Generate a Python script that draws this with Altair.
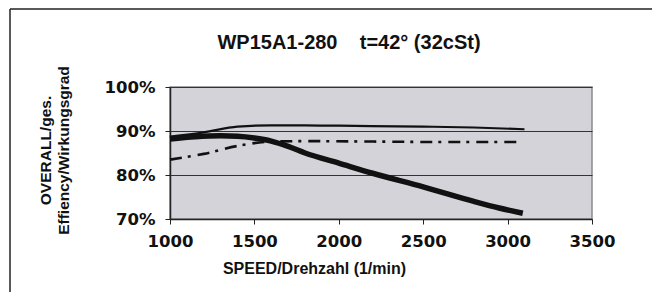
import altair as alt
import pandas as pd

# --- data ---
rpm_thin = [1000, 1200, 1400, 1600, 1800, 2000, 2500, 2800, 3100]
eff_thin = [0.887, 0.897, 0.910, 0.913, 0.913, 0.912, 0.910, 0.908, 0.904]

rpm_dash = [1000, 1200, 1400, 1600, 1800, 2200, 2600, 3070]
eff_dash = [0.835, 0.848, 0.866, 0.876, 0.877, 0.876, 0.875, 0.875]

rpm_thick = [1000, 1150, 1300, 1400, 1500, 1600, 1700, 1800, 2000, 2200, 2500, 2800, 2950, 3090]
eff_thick = [0.882, 0.887, 0.889, 0.888, 0.884, 0.877, 0.865, 0.850, 0.827, 0.804, 0.773, 0.740, 0.725, 0.713]

x_ticks = [1000, 1500, 2000, 2500, 3000, 3500]
y_ticks = [0.7, 0.8, 0.9, 1.0]

title_text = "WP15A1-280\u00a0\u00a0\u00a0\u00a0t=42\u00b0 (32cSt)"
x_title = "SPEED/Drehzahl (1/min)"
y_title = ["OVERALL/ges.", "Effiency/Wirkungsgrad"]

df_thin = pd.DataFrame({"rpm": rpm_thin, "eff": eff_thin})
df_dash = pd.DataFrame({"rpm": rpm_dash, "eff": eff_dash})
df_thick = pd.DataFrame({"rpm": rpm_thick, "eff": eff_thick})

TICK_FONT = "DejaVu Sans"
TEXT_FONT = "Liberation Sans"

x_enc = alt.X(
    "rpm:Q",
    scale=alt.Scale(domain=[1000, 3500], nice=False, zero=False),
    axis=alt.Axis(
        values=x_ticks, format="d", grid=False,
        domainColor="#222", domainWidth=1.5, tickColor="#222", tickSize=5,
        labelFont=TICK_FONT, labelFontSize=16.5, labelFontWeight="bold", labelColor="#111",
        labelPadding=9, labelFlush=False, labelOverlap=False,
        title=x_title, titleFont=TEXT_FONT, titleFontSize=16, titleFontWeight="bold",
        titleColor="#111", titleX=144, titleY=49, titleAlign="center", titleBaseline="middle",
    ),
)
y_enc = alt.Y(
    "eff:Q",
    scale=alt.Scale(domain=[0.7, 1.0], nice=False, zero=False),
    axis=alt.Axis(
        values=y_ticks, format=".0%", grid=True, gridColor="#333", gridWidth=1.2,
        domainColor="#222", domainWidth=1.5, tickColor="#222", tickSize=5,
        labelFont=TICK_FONT, labelFontSize=16.5, labelFontWeight="bold", labelColor="#111",
        labelPadding=10, labelFlush=False,
        title=y_title, titleFont=TEXT_FONT, titleFontSize=15.5, titleFontWeight="bold",
        titleColor="#111", titleAngle=270, titleX=-125, titleY=63,
        titleAlign="center", titleBaseline="middle", titleLineHeight=18,
    ),
)

thin = alt.Chart(df_thin).mark_line(color="#111", strokeWidth=2.2, interpolate="monotone").encode(x=x_enc, y=y_enc)
dash = alt.Chart(df_dash).mark_line(color="#111", strokeWidth=2.6, strokeDash=[12, 6, 3, 7],
                                    interpolate="monotone").encode(x=x_enc, y=y_enc)
thick = alt.Chart(df_thick).mark_line(color="#111", strokeWidth=5.5, interpolate="monotone").encode(x=x_enc, y=y_enc)

one = pd.DataFrame({"a": [0]})
# outer frame (left and top edges)
frame_left = alt.Chart(one).mark_rule(color="#222", strokeWidth=1.5).encode(
    x=alt.value(-160), y=alt.value(-78), y2=alt.value(300))
frame_top = alt.Chart(one).mark_rule(color="#222", strokeWidth=1.5).encode(
    x=alt.value(-160), x2=alt.value(600), y=alt.value(-78))

title = alt.Chart(pd.DataFrame({"t": [title_text]})).mark_text(
    font=TEXT_FONT, fontSize=20, fontWeight="bold", color="#111",
    align="center", baseline="alphabetic",
).encode(text="t:N", x=alt.value(179), y=alt.value(-38))

chart = alt.layer(frame_left, frame_top, title, thin, dash, thick).properties(
    width=422, height=132,
    padding={"left": 162, "top": 79, "right": 60, "bottom": 73},
    autosize=alt.AutoSizeParams(type="none"),
    background="white",
).configure_view(fill="#d3d3d9", stroke="#8a8a8a", strokeWidth=1.5)

chart.save("out.html", embed_options={"renderer": "svg", "actions": False})
